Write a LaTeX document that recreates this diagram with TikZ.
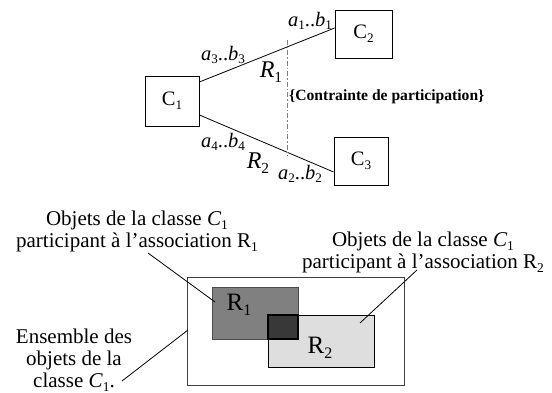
\documentclass[tikz,border=0pt]{standalone}
\usepackage{fontspec}
\setmainfont{Liberation Serif}
\newcommand{\lowsub}[1]{\raisebox{-0.4ex}{\fontsize{0.64em}{1em}\selectfont #1}}
\newcommand{\rng}[2]{\textit{a}\lowsub{#1}..\textit{b}\lowsub{#2}}
\tikzset{
  classbox/.style={draw, line width=0.8pt, inner sep=0pt, font=\fontsize{20.5}{24}\selectfont},
  mult/.style={inner sep=0pt, font=\fontsize{20.5}{22}\selectfont},
  rel/.style={inner sep=0pt, font=\fontsize{24}{28}\selectfont},
  bigrel/.style={inner sep=0pt, font=\fontsize{25}{28}\selectfont},
  note/.style={inner sep=0pt, align=center, font=\fontsize{21}{22}\selectfont},
  conn/.style={line width=0.8pt},
}
\begin{document}
\begin{tikzpicture}[x=1pt,y=-1pt]
\useasboundingbox (0,0) rectangle (552,393);
% top part
\node[classbox, minimum width=54pt, minimum height=50pt] (c1) at (172,101) {C\lowsub{1}};
\node[classbox, minimum width=57pt, minimum height=48pt] (c2) at (363.5,34) {C\lowsub{2}};
\node[classbox, minimum width=54pt, minimum height=48pt] (c3) at (361,161) {C\lowsub{3}};
\draw[conn] ([yshift=19pt]c1.east) -- ([yshift=6pt]c2.west);
\draw[conn] ([yshift=-14pt]c1.east) -- ([yshift=-11pt]c3.west);
\coordinate (dtop) at (287,40);
\coordinate (dbot) at (287,156);
\draw[gray, line width=0.9pt, dash pattern=on 5pt off 2pt on 1.5pt off 2pt] (dtop) -- (dbot);
\node[mult] (m1) at (310,21) {\rng{1}{1}};
\node[mult] (m3) at (223,55) {\rng{3}{3}};
\node[mult] (m4) at (223,142) {\rng{4}{4}};
\node[mult] (m2) at (300,174) {\rng{2}{2}};
\node[rel] (r1) at (271,72) {\textit{R}\lowsub{1}};
\node[rel] (r2) at (258,163) {\textit{R}\lowsub{2}};
\node[inner sep=0pt, anchor=west, font=\bfseries\fontsize{15.6}{18}\selectfont] (cp) at (289,97) {\{Contrainte de participation\}};
% bottom part
\draw[line width=0.8pt, black!75] (187,277) rectangle (404,385);
\node[draw=black!70, fill=black!50, line width=0.8pt, minimum width=86pt, minimum height=52pt, inner sep=0pt] (b1) at (255,313) {};
\node[draw=black, fill=black!13, line width=0.8pt, minimum width=106pt, minimum height=52pt, inner sep=0pt] (b2) at (321,341) {};
\node[draw=black, fill=black!78, line width=1.6pt, minimum width=30pt, minimum height=24pt, inner sep=0pt] (ov) at (283,327) {};
\node[bigrel] (l1) at (239,305) {R\lowsub{1}};
\node[bigrel] (l2) at (320,348) {R\lowsub{2}};
\node[note] (t1) at (137,231.5) {Objets de la classe \textit{C}\lowsub{1}\\participant à l’association R\lowsub{1}};
\node[note] (t2) at (423,252.5) {Objets de la classe \textit{C}\lowsub{1}\\participant à l’association R\lowsub{2}};
\node[note] (t3) at (74,360) {Ensemble des\\objets de la\\classe \textit{C}\lowsub{1}.};
\coordinate (p1a) at (148,253);
\coordinate (p1b) at (215,302);
\coordinate (p2a) at (417,270);
\coordinate (p2b) at (360,323);
\coordinate (p3a) at (122,381);
\coordinate (p3b) at (188,330);
\draw[conn] (p1a) -- (p1b);
\draw[conn] (p2a) -- (p2b);
\draw[conn] (p3a) -- (p3b);
\end{tikzpicture}
\end{document}
